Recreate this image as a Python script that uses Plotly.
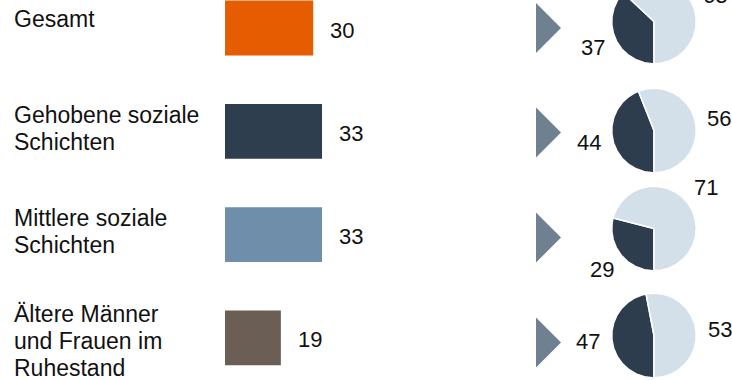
import numpy as np
import plotly.graph_objects as go

# Data
categories = [
    ["Gesamt"],
    ["Gehobene soziale", "Schichten"],
    ["Mittlere soziale", "Schichten"],
    ["Ältere Männer", "und Frauen im", "Ruhestand"],
]
bar_values = [30, 33, 33, 19]
pie_dark = [37, 44, 29, 47]
pie_light = [63, 56, 71, 53]

# Styling
bar_colors = ["#e65c00", "#2f3e4e", "#6e8eaa", "#6b5f55"]
DARK = "#2e3d4e"
LIGHT = "#d3e0ea"
ARROW = "#6f8191"
FONT = "Liberation Sans, Arial, sans-serif"
W, H = 732, 380

# Layout positions (pixels)
PIE_CX = 654
PIE_CY = [21.5, 130.5, 228.5, 335.5]
PIE_R = 41.5
TRI_X0, TRI_W, TRI_HALF = 536, 25, 25
TRI_CY = [28, 132.5, 237.5, 342.5]
LABEL_OFFSET = [-9, -3, -3, 3]   # label block centre relative to bar centre (px, down)
LINE_GAP = 27

fig = go.Figure()

# Horizontal bars
fig.add_trace(go.Bar(
    x=bar_values, y=list(range(len(bar_values))), orientation="h",
    marker=dict(color=bar_colors, line=dict(width=0)),
    width=0.53, xaxis="x", yaxis="y", hoverinfo="skip", showlegend=False,
))


def wedge(cx, cy, r, a0, a1):
    # angles in degrees, clockwise from 12 o'clock
    n = max(int(abs(a1 - a0)), 2) + 1
    t = np.radians(np.linspace(a0, a1, n))
    xs = np.concatenate([[cx], cx + r * np.sin(t), [cx]])
    ys = np.concatenate([[cy], cy - r * np.cos(t), [cy]])
    return xs, ys


annotations = []
for i, (d, l) in enumerate(zip(pie_dark, pie_light)):
    total = d + l
    start = 180.0
    split = start + 360.0 * d / total
    end = start + 360.0
    cy = PIE_CY[i]
    for a0, a1, col, val in [(start, split, DARK, d), (split, end, LIGHT, l)]:
        xs, ys = wedge(PIE_CX, cy, PIE_R + 0.75, a0, a1)
        fig.add_trace(go.Scatter(
            x=xs, y=ys, mode="lines", fill="toself", fillcolor=col,
            line=dict(color="white", width=1.5), xaxis="x2", yaxis="y2",
            hoverinfo="skip", showlegend=False,
        ))
        mid = np.radians((a0 + a1) / 2)
        px = PIE_CX + 1.6 * PIE_R * np.sin(mid)
        py = cy - 1.6 * PIE_R * np.cos(mid)
        annotations.append(dict(
            x=px / W, y=1 - py / H, xref="paper", yref="paper",
            text=str(val), showarrow=False,
            xanchor="center", yanchor="middle",
            font=dict(family=FONT, size=22, color="#111111"),
        ))

# Bar value labels
for i, v in enumerate(bar_values):
    annotations.append(dict(
        x=v, y=i, xref="x", yref="y", text=str(v), showarrow=False,
        xanchor="left", yanchor="middle", xshift=15, yshift=-2,
        font=dict(family=FONT, size=22, color="#111111"),
    ))

# Category labels, one annotation per line
for i, lines in enumerate(categories):
    n = len(lines)
    for k, line in enumerate(lines):
        off = LABEL_OFFSET[i] + (k - (n - 1) / 2) * LINE_GAP
        annotations.append(dict(
            x=12 / W, y=i, xref="paper", yref="y", text=line, showarrow=False,
            xanchor="left", yanchor="middle", align="left", yshift=-off,
            font=dict(family=FONT, size=23, color="#111111"),
        ))

# Arrow markers
shapes = []
for cy in TRI_CY:
    shapes.append(dict(
        type="path", xref="x2", yref="y2",
        path=f"M{TRI_X0},{cy - TRI_HALF} L{TRI_X0 + TRI_W},{cy} L{TRI_X0},{cy + TRI_HALF} Z",
        fillcolor=ARROW, line=dict(width=0), layer="above",
    ))

hidden = dict(visible=False, showgrid=False, zeroline=False, fixedrange=True)
fig.update_layout(
    width=W, height=H, margin=dict(l=0, r=0, t=0, b=0),
    paper_bgcolor="white", plot_bgcolor="rgba(0,0,0,0)",
    xaxis=dict(domain=[225 / W, 519 / W], range=[0, 100], anchor="y", **hidden),
    yaxis=dict(domain=[0, 1], range=[3.407, -0.271], anchor="x", **hidden),
    xaxis2=dict(domain=[0, 1], range=[0, W], anchor="y2", **hidden),
    yaxis2=dict(domain=[0, 1], range=[H, 0], anchor="x2", **hidden),
    annotations=annotations, shapes=shapes, showlegend=False,
)

fig.write_html("out.html")
